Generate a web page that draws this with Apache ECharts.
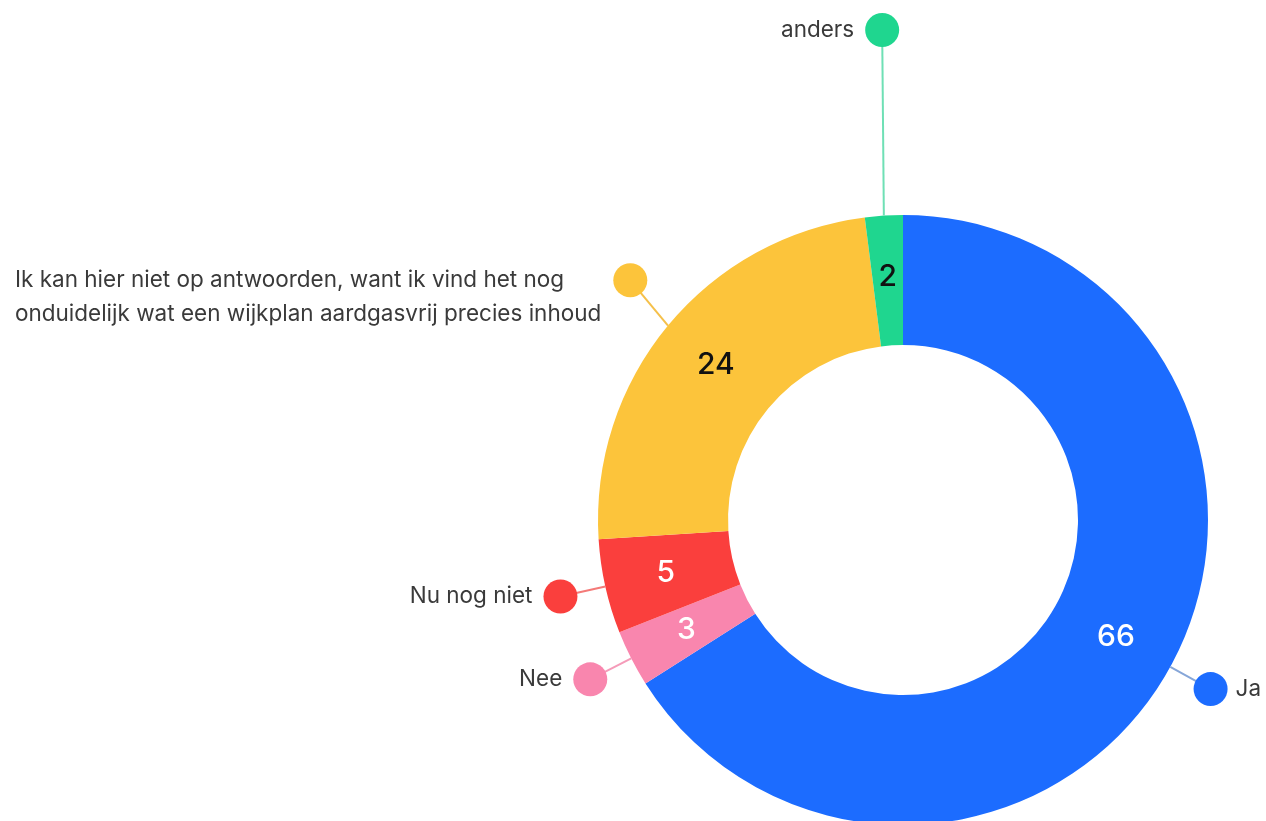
<!DOCTYPE html>
<html>
<head>
<meta charset="utf-8">
<script src="https://cdn.jsdelivr.net/npm/echarts@6/dist/echarts.min.js"></script>
<style>
html,body{margin:0;padding:0;background:#fff;}
#chart{width:1266px;height:821px;}
</style>
</head>
<body>
<div id="chart"></div>
<script>
const categories = ['Ja', 'Nee', 'Nu nog niet', 'Ik kan hier niet op antwoorden, want ik vind het nog onduidelijk wat een wijkplan aardgasvrij precies inhoud', 'anders'];
const labelLines = [['Ja'], ['Nee'], ['Nu nog niet'], ['Ik kan hier niet op antwoorden, want ik vind het nog', 'onduidelijk wat een wijkplan aardgasvrij precies inhoud'], ['anders']];
const values = [66, 3, 5, 24, 2];
const colors = ['#1c6cff', '#f986ae', '#fa3f3d', '#fcc43b', '#1fd68f'];
const lineColors = ['#86a6d8', '#f59bb9', '#f47a78', '#f5c04a', '#6fe0b5'];
const valueColors = ['#ffffff', '#ffffff', '#ffffff', '#111111', '#111111'];
const lineLengths = [46, 46, 46, 71, 186];
const lineLengths2 = [0, 0, 0, -17, -10];

const FONT = 'Inter, "Noto Sans", sans-serif';
const rich = {
  t: {fontSize: 22.5, color: '#3a3a3a', fontFamily: FONT, lineHeight: 33, align: 'left'},
  g: {width: 11, align: 'right'},
  gl: {width: 8, align: 'left'},
  sp: {width: 46, align: 'right'}
};
colors.forEach((c, i) => {
  rich['d' + i] = {width: 34, height: 34, borderRadius: 17, backgroundColor: c, align: 'right'};
  rich['dl' + i] = {width: 34, height: 34, borderRadius: 17, backgroundColor: c, align: 'left'};
});

const innerData = categories.map((name, i) => ({
  name: name, value: values[i],
  itemStyle: {color: colors[i]},
  label: {color: valueColors[i]}
}));

const outerData = categories.map((name, i) => {
  const lines = labelLines[i];
  let fmt, padding = 0;
  if (i === 0) {
    fmt = '{dl0|}{gl|}{t|' + lines[0] + '}';
  } else if (lines.length === 2) {
    fmt = '{t|' + lines[0] + '}{d' + i + '|}\n{t|' + lines[1] + '}{sp|}';
    padding = [33, 0, 0, 0];
  } else {
    fmt = '{t|' + lines[0] + '}{g|}{d' + i + '|}';
  }
  return {
    name: name, value: values[i],
    label: {formatter: fmt, padding: padding},
    labelLine: {length: lineLengths[i], length2: lineLengths2[i], lineStyle: {color: lineColors[i]}}
  };
});

const chart = echarts.init(document.getElementById('chart'), null, {renderer: 'canvas'});
chart.setOption({
  backgroundColor: '#ffffff',
  animation: false,
  series: [
    {
      type: 'pie',
      center: [903, 520],
      radius: [175, 305],
      startAngle: 90,
      clockwise: true,
      avoidLabelOverlap: false,
      silent: true,
      label: {
        show: true, position: 'inside', formatter: '{c}',
        fontSize: 30, fontWeight: 500, fontFamily: FONT
      },
      labelLine: {show: false},
      data: innerData
    },
    {
      type: 'pie',
      center: [903, 520],
      radius: [175, 305],
      startAngle: 90,
      clockwise: true,
      avoidLabelOverlap: false,
      silent: true,
      z: 3,
      itemStyle: {color: 'rgba(0,0,0,0)'},
      label: {
        show: true, position: 'outside',
        distanceToLabelLine: -17,
        rich: rich
      },
      labelLine: {show: true, length2: 0, smooth: false, lineStyle: {width: 2}},
      data: outerData
    }
  ]
});
</script>
</body>
</html>
